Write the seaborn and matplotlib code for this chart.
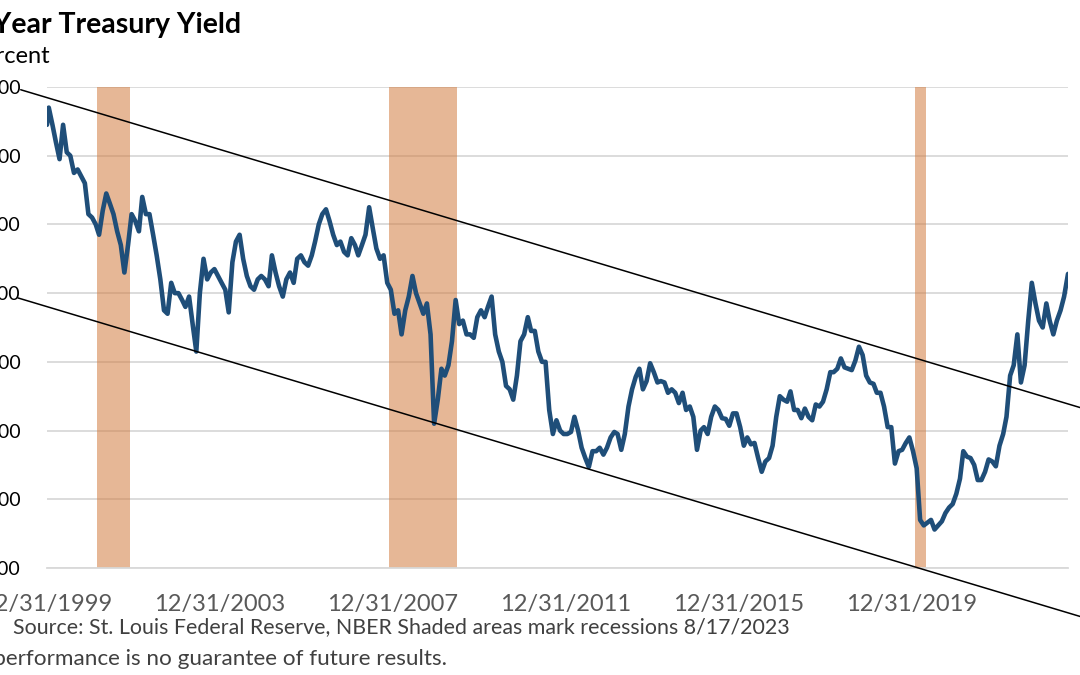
import numpy as np
import pandas as pd
import seaborn as sns
import matplotlib.pyplot as plt
import matplotlib.dates as mdates

# monthly readings of the 10y yield, Jan 2000 .. Jul 2023 (percent)
y2000 = [6.70, 6.45, 6.20, 5.95, 6.45, 6.05, 6.00, 5.75, 5.80, 5.70, 5.60, 5.15]
y2001 = [5.10, 5.00, 4.85, 5.20, 5.45, 5.30, 5.15, 4.90, 4.70, 4.30, 4.70, 5.15]
y2002 = [5.05, 4.90, 5.40, 5.15, 5.15, 4.85, 4.55, 4.20, 3.75, 3.70, 4.15, 4.00]
y2003 = [4.00, 3.90, 3.80, 3.95, 3.55, 3.15, 4.00, 4.50, 4.20, 4.30, 4.35, 4.25]
y2004 = [4.15, 4.05, 3.72, 4.45, 4.75, 4.85, 4.50, 4.25, 4.10, 4.05, 4.20, 4.25]
y2005 = [4.20, 4.10, 4.55, 4.30, 4.10, 3.95, 4.20, 4.30, 4.15, 4.50, 4.55, 4.45]
y2006 = [4.40, 4.55, 4.75, 5.00, 5.15, 5.22, 5.05, 4.85, 4.70, 4.75, 4.60, 4.55]
y2007 = [4.80, 4.70, 4.55, 4.70, 4.85, 5.25, 4.95, 4.65, 4.50, 4.55, 4.15, 4.05]
y2008 = [3.70, 3.75, 3.40, 3.75, 3.95, 4.25, 4.00, 3.85, 3.70, 3.85, 3.40, 2.10]
y2009 = [2.45, 2.90, 2.80, 2.95, 3.30, 3.90, 3.55, 3.60, 3.40, 3.40, 3.35, 3.65]
y2010 = [3.75, 3.65, 3.80, 3.95, 3.40, 3.15, 3.00, 2.65, 2.60, 2.45, 2.80, 3.30]
y2011 = [3.40, 3.65, 3.45, 3.45, 3.15, 3.00, 3.00, 2.30, 1.95, 2.15, 2.00, 1.95]
y2012 = [1.95, 1.98, 2.20, 2.00, 1.75, 1.60, 1.47, 1.70, 1.70, 1.75, 1.65, 1.75]
y2013 = [1.90, 1.98, 1.95, 1.72, 1.95, 2.35, 2.60, 2.78, 2.90, 2.60, 2.72, 2.98]
y2014 = [2.85, 2.70, 2.72, 2.70, 2.55, 2.60, 2.55, 2.40, 2.55, 2.30, 2.35, 2.20]
y2015 = [1.72, 2.00, 2.05, 1.95, 2.20, 2.35, 2.30, 2.18, 2.17, 2.07, 2.25, 2.25]
y2016 = [2.05, 1.78, 1.90, 1.80, 1.82, 1.60, 1.40, 1.55, 1.60, 1.78, 2.20, 2.50]
y2017 = [2.45, 2.42, 2.57, 2.30, 2.30, 2.18, 2.32, 2.20, 2.15, 2.38, 2.35, 2.42]
y2018 = [2.60, 2.85, 2.85, 2.90, 3.05, 2.92, 2.90, 2.88, 3.02, 3.22, 3.10, 2.80]
y2019 = [2.70, 2.68, 2.55, 2.55, 2.35, 2.05, 2.05, 1.52, 1.70, 1.72, 1.82, 1.90]
y2020 = [1.70, 1.45, 0.70, 0.62, 0.66, 0.70, 0.56, 0.62, 0.68, 0.80, 0.88, 0.93]
y2021 = [1.08, 1.30, 1.70, 1.62, 1.60, 1.50, 1.28, 1.28, 1.40, 1.58, 1.55, 1.48]
y2022 = [1.78, 1.95, 2.20, 2.80, 2.95, 3.40, 2.70, 2.95, 3.60, 4.15, 3.85, 3.60]
y2023 = [3.50, 3.85, 3.60, 3.40, 3.60, 3.75, 3.95]
first_date, first_value = "1999-12-31", 6.45
last_date, last_value = "2023-08-17", 4.28

# NBER recessions
rec_start = ["2001-03-01", "2007-12-01", "2020-02-01"]
rec_end = ["2001-11-30", "2009-06-30", "2020-04-30"]

# hand drawn channel lines
upper_dates = ["1999-05-23", "2025-12-31"]
upper_vals = [6.96, 1.94]
lower_dates = ["1999-04-30", "2025-12-31"]
lower_vals = [3.93, -1.10]

tick_dates = ["1999-12-31", "2003-12-31", "2007-12-31", "2011-12-31", "2015-12-31", "2019-12-31"]
y_ticks = [0, 1, 2, 3, 4, 5, 6, 7]

monthly = (y2000 + y2001 + y2002 + y2003 + y2004 + y2005 + y2006 + y2007 + y2008
           + y2009 + y2010 + y2011 + y2012 + y2013 + y2014 + y2015 + y2016
           + y2017 + y2018 + y2019 + y2020 + y2021 + y2022 + y2023)
dates = pd.date_range("2000-01-01", periods=len(monthly), freq="MS") + pd.Timedelta(days=14)
df = pd.DataFrame({"date": dates, "yield": monthly})
df = pd.concat([pd.DataFrame({"date": [pd.Timestamp(first_date)], "yield": [first_value]}),
                df,
                pd.DataFrame({"date": [pd.Timestamp(last_date)], "yield": [last_value]})],
               ignore_index=True)

sns.set_theme(style="white")
plt.rcParams["font.family"] = ["Lato", "DejaVu Sans"]

W, H = 1080, 675
fig = plt.figure(figsize=(W / 100, H / 100), dpi=100)
ax = fig.add_axes([47 / W, 1 - 568 / H, (1068 - 47) / W, (568 - 87) / H])

for s, e in zip(rec_start, rec_end):
    ax.axvspan(pd.Timestamp(s), pd.Timestamp(e), color="#D27C40", alpha=0.55, lw=0, zorder=1)

sns.lineplot(data=df, x="date", y="yield", ax=ax, color="#1F4E79", linewidth=3.3, zorder=3)

ax.plot(pd.to_datetime(upper_dates), upper_vals, color="black", lw=1.1, clip_on=False, zorder=4)
ax.plot(pd.to_datetime(lower_dates), lower_vals, color="black", lw=1.1, clip_on=False, zorder=4)

ax.set_xlim(pd.Timestamp("1999-12-31"), pd.Timestamp("2023-08-17"))
ax.set_ylim(0, 7)
ax.set_yticks(y_ticks)
ax.set_yticklabels([f"{v:.2f}" for v in y_ticks])
ax.set_xticks(pd.to_datetime(tick_dates))
ax.xaxis.set_major_formatter(mdates.DateFormatter("%m/%d/%Y"))
ax.set_xlabel("")
ax.set_ylabel("")

ax.yaxis.grid(True, color="#D9D9D9", lw=1.3)
ax.set_axisbelow(True)
for side in ["top", "right", "left"]:
    ax.spines[side].set_visible(False)
ax.spines["bottom"].set_color("#D9D9D9")
ax.spines["bottom"].set_linewidth(1.3)

ax.tick_params(axis="y", length=0, pad=19, labelsize=14, labelcolor="black")
ax.tick_params(axis="x", direction="in", length=8, width=1, color="#D9D9D9",
               pad=19, labelsize=17, labelcolor="#595959")

fig.text(241 / W, 1 - 33 / H, "10-Year Treasury Yield", ha="right", va="baseline",
         fontsize=20.5, fontweight="bold", color="black")
fig.text(51 / W, 1 - 63 / H, "Percent", ha="right", va="baseline", fontsize=17, color="black")
fig.text(790 / W, 1 - 633 / H,
         "Source: St. Louis Federal Reserve, NBER Shaded areas mark recessions 8/17/2023",
         ha="right", va="baseline", fontsize=15.4, color="#404040")
fig.text(447 / W, 1 - 665 / H, "Past performance is no guarantee of future results.",
         ha="right", va="baseline", fontsize=16.2, color="#404040")

fig.savefig("out.png", dpi=100)
